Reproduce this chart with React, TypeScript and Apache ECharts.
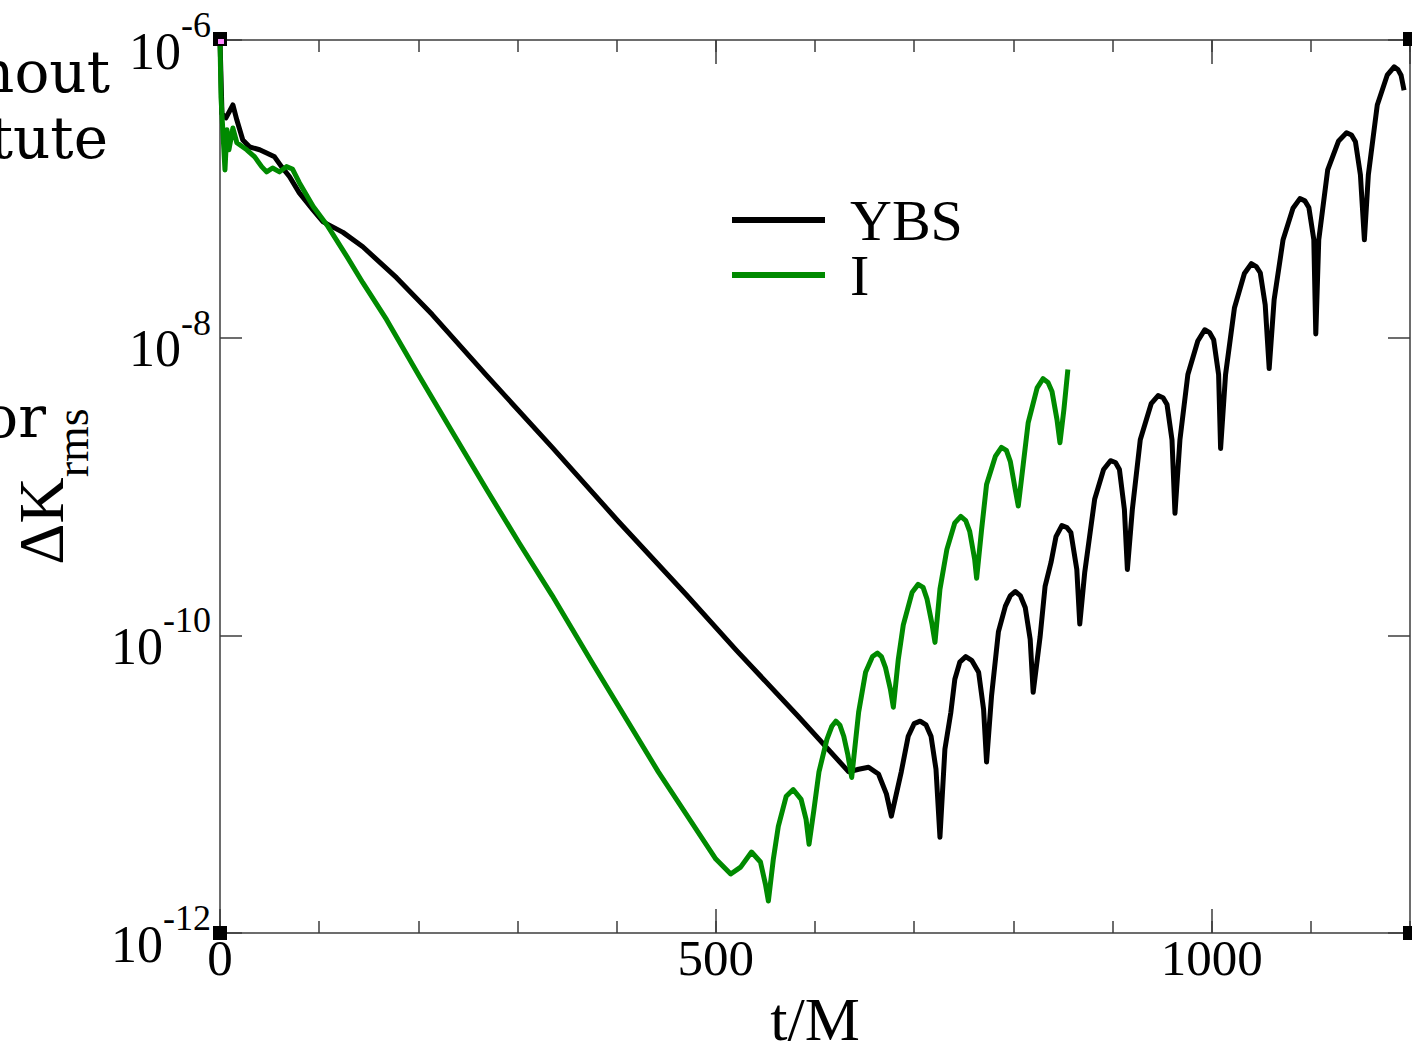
import React, { useEffect, useRef } from "react";
import * as echarts from "echarts";

// ---- Data (t/M, ΔK_rms) ----
const ybsTime = [
  0, 2, 6, 13, 17, 23, 30, 40, 47, 55, 62, 70, 80, 94, 104, 124, 144, 178, 214, 269, 335, 402, 470, 521, 583, 634,
  644, 654, 664, 672, 677, 687, 694, 700, 706, 712, 717, 722, 726, 731, 737, 741, 746, 752, 758, 765, 770, 773, 778,
  785, 792, 797, 802, 807, 812, 817, 820, 827, 832, 838, 843, 849, 854, 858, 864, 867, 872, 882, 891, 898, 903, 907,
  912, 915, 920, 928, 939, 946, 951, 955, 960, 963, 968, 976, 986, 993, 998, 1002, 1007, 1009, 1014, 1023, 1033, 1040,
  1045, 1049, 1054, 1058, 1063, 1072, 1082, 1089, 1094, 1098, 1103, 1105, 1108, 1117, 1128, 1136, 1141, 1145, 1150,
  1154, 1158, 1167, 1177, 1184, 1188, 1191, 1194,
];
const ybsDeltaK = [
  1.0e-6, 3.2e-7, 3.0e-7, 3.66e-7, 2.9e-7, 2.13e-7, 1.91e-7, 1.83e-7, 1.74e-7, 1.64e-7, 1.41e-7, 1.21e-7, 9.4e-8,
  7.2e-8, 6.0e-8, 5.1e-8, 4.08e-8, 2.53e-8, 1.43e-8, 5.56e-9, 1.83e-9, 5.8e-10, 1.88e-10, 7.9e-11, 2.86e-11, 1.21e-11,
  1.26e-11, 1.3e-11, 1.17e-11, 8.6e-12, 6.1e-12, 1.21e-11, 2.1e-11, 2.55e-11, 2.65e-11, 2.5e-11, 2.1e-11, 1.26e-11,
  4.4e-12, 1.72e-11, 3.04e-11, 5.07e-11, 6.6e-11, 7.2e-11, 6.8e-11, 5.65e-11, 3.18e-11, 1.41e-11, 3.9e-11, 1.06e-10,
  1.57e-10, 1.85e-10, 1.97e-10, 1.85e-10, 1.54e-10, 9.4e-11, 4.14e-11, 9.8e-11, 2.13e-10, 3.09e-10, 4.6e-10, 5.47e-10,
  5.3e-10, 4.91e-10, 2.77e-10, 1.19e-10, 2.65e-10, 8.2e-10, 1.3e-9, 1.49e-9, 1.45e-9, 1.3e-9, 7.0e-10, 2.77e-10, 7.0e-10,
  2.06e-9, 3.6e-9, 4.08e-9, 3.95e-9, 3.55e-9, 2.06e-9, 6.6e-10, 2.06e-9, 5.65e-9, 9.5e-9, 1.13e-8, 1.08e-8, 9.7e-9,
  5.65e-9, 1.8e-9, 5.65e-9, 1.59e-8, 2.7e-8, 3.14e-8, 3.0e-8, 2.73e-8, 1.66e-8, 6.2e-9, 1.8e-8, 4.55e-8, 7.4e-8, 8.6e-8,
  8.3e-8, 7.5e-8, 4.55e-8, 1.06e-8, 4.55e-8, 1.34e-7, 2.1e-7, 2.38e-7, 2.3e-7, 2.07e-7, 1.24e-7, 4.55e-8, 1.24e-7,
  3.66e-7, 5.8e-7, 6.6e-7, 6.3e-7, 5.8e-7, 4.6e-7,
];
const iTime = [
  0, 1, 5, 7, 9, 13, 17, 27, 35, 42, 47, 53, 60, 67, 73, 80, 94, 108, 128, 144, 168, 201, 234, 269, 302, 335, 375,
  442, 500, 515, 525, 536, 545, 550, 553, 558, 563, 571, 578, 586, 591, 594, 599, 604, 612, 617, 621, 625, 629, 633,
  637, 644, 651, 658, 663, 667, 671, 676, 679, 684, 689, 698, 704, 709, 713, 718, 721, 726, 733, 741, 747, 752, 756,
  761, 763, 768, 773, 782, 788, 793, 797, 802, 805, 810, 815, 824, 830, 835, 839, 844, 847, 851, 855,
];
const iDeltaK = [
  1.0e-6, 4.14e-7, 1.34e-7, 2.49e-7, 1.83e-7, 2.56e-7, 2.04e-7, 1.83e-7, 1.64e-7, 1.41e-7, 1.3e-7, 1.38e-7, 1.3e-7,
  1.41e-7, 1.36e-7, 1.1e-7, 7.6e-8, 5.7e-8, 3.5e-8, 2.34e-8, 1.32e-8, 5.5e-9, 2.34e-9, 9.5e-10, 4.14e-10, 1.85e-10,
  6.6e-11, 1.21e-11, 3.14e-12, 2.49e-12, 2.77e-12, 3.5e-12, 3.0e-12, 2.13e-12, 1.64e-12, 3.14e-12, 5.2e-12, 8.3e-12,
  9.2e-12, 7.9e-12, 5.8e-12, 3.95e-12, 6.8e-12, 1.21e-11, 2.0e-11, 2.45e-11, 2.65e-11, 2.5e-11, 2.1e-11, 1.59e-11,
  1.11e-11, 3.04e-11, 5.65e-11, 7.2e-11, 7.6e-11, 7.2e-11, 6.1e-11, 4.35e-11, 3.29e-11, 6.9e-11, 1.17e-10, 1.95e-10,
  2.2e-10, 2.1e-10, 1.75e-10, 1.19e-10, 8.97e-11, 2.04e-10, 3.78e-10, 5.7e-10, 6.3e-10, 5.9e-10, 4.99e-10, 3.24e-10,
  2.42e-10, 5.14e-10, 1.03e-9, 1.6e-9, 1.83e-9, 1.75e-9, 1.47e-9, 9.5e-10, 7.4e-10, 1.41e-9, 2.69e-9, 4.6e-9, 5.3e-9,
  5.0e-9, 4.35e-9, 2.82e-9, 1.97e-9, 3.29e-9, 6.1e-9,
];
const seriesNames = ["YBS", "I"];
const seriesColors = ["#000000", "#008a00"];
const xRange = [0, 1200];
const yExpRange = [-12, -6];

const SERIF = "'Liberation Serif', 'Times New Roman', serif";
const PAGE_SERIF = "'DejaVu Serif', serif";
const FRAME = "#3c3c3c";

export default function App() {
  const ref = useRef<HTMLDivElement>(null);
  useEffect(() => {
    const chart = echarts.init(ref.current!, null, { renderer: "svg" });
    const gl = 220, gt = 40, gr = 1410, gb = 933;

    const xBase = (extra: any) => ({
      type: "value",
      min: xRange[0],
      max: xRange[1],
      splitLine: { show: false },
      axisLine: { show: true, onZero: false, lineStyle: { color: FRAME, width: 1.5 } },
      axisTick: { show: true, inside: true, length: 24, lineStyle: { color: FRAME, width: 1.5 } },
      axisLabel: { show: false },
      ...extra,
    });
    const yTickBase = (extra: any) => ({
      type: "value",
      min: yExpRange[0],
      max: yExpRange[1],
      interval: 2,
      splitLine: { show: false },
      axisLine: { show: true, onZero: false, lineStyle: { color: FRAME, width: 1.5 } },
      axisTick: { show: true, inside: true, length: 22, lineStyle: { color: FRAME, width: 1.5 } },
      axisLabel: { show: false },
      ...extra,
    });
    const minorTick = { show: true, inside: true, length: 12, lineStyle: { color: FRAME, width: 1.5 } };

    chart.setOption({
      animation: false,
      backgroundColor: "#ffffff",
      grid: {
        left: gl,
        top: gt,
        width: gr - gl,
        height: gb - gt,
        containLabel: false,
        outerBoundsMode: "none",
      },
      legend: {
        data: seriesNames,
        orient: "vertical",
        left: 732,
        top: 191,
        padding: 0,
        icon: "rect",
        itemWidth: 93,
        itemHeight: 6,
        itemGap: -3,
        textStyle: { fontSize: 58, fontFamily: SERIF, color: "#000", lineHeight: 48, padding: [0, 0, 0, 20] },
      },
      xAxis: [
        xBase({
          position: "bottom",
          interval: 500,
          axisLabel: {
            show: true,
            fontSize: 51,
            fontFamily: SERIF,
            color: "#000",
            margin: -1,
            showMaxLabel: false,
            formatter: (v: number) => String(v),
          },
          name: "t/M",
          nameLocation: "middle",
          nameGap: 50,
          nameTextStyle: { fontSize: 62, lineHeight: 50, fontFamily: SERIF, color: "#000" },
        }),
        xBase({ position: "top", interval: 500 }),
        xBase({ position: "bottom", interval: 100, axisLine: { show: false }, axisTick: minorTick }),
        xBase({ position: "top", interval: 100, axisLine: { show: false }, axisTick: minorTick }),
      ],
      yAxis: [
        {
          type: "log",
          logBase: 10,
          position: "left",
          min: Math.pow(10, yExpRange[0]),
          max: Math.pow(10, yExpRange[1]),
          axisLine: { show: false, onZero: false },
          axisTick: { show: false },
          axisLabel: { show: false },
          splitLine: { show: false },
        },
        yTickBase({
          position: "left",
          axisLabel: {
            show: true,
            margin: 9,
            formatter: (v: number) => `{b|10}{s|${v}}`,
            rich: {
              b: { fontSize: 52, fontFamily: SERIF, color: "#000", padding: [22, 0, 0, 0] },
              s: { fontSize: 36, fontFamily: SERIF, color: "#000", padding: [0, 0, 30, 0] },
            },
          },
          name: "{a|ΔK}{b|rms}",
          nameLocation: "middle",
          nameRotate: 90,
          nameGap: 125,
          nameTextStyle: {
            rich: {
              a: { fontSize: 64, fontFamily: SERIF, color: "#000" },
              b: { fontSize: 46, fontFamily: SERIF, color: "#000", padding: [62, 0, 0, 0] },
            },
          },
        }),
        yTickBase({ position: "right" }),
      ],
      series: [
        {
          name: seriesNames[0],
          type: "line",
          xAxisIndex: 0,
          yAxisIndex: 0,
          showSymbol: false,
          symbol: "none",
          color: seriesColors[0],
          lineStyle: { color: seriesColors[0], width: 5, join: "round" },
          data: ybsTime.map((t, i) => [t, ybsDeltaK[i]]),
          z: 3,
        },
        {
          name: seriesNames[1],
          type: "line",
          xAxisIndex: 0,
          yAxisIndex: 0,
          showSymbol: false,
          symbol: "none",
          color: seriesColors[1],
          lineStyle: { color: seriesColors[1], width: 5, join: "round" },
          data: iTime.map((t, i) => [t, iDeltaK[i]]),
          z: 4,
        },
      ],
      graphic: [
        { type: "text", x: 110, y: 72, style: { text: "without", fill: "#000", font: `58px ${PAGE_SERIF}`, textAlign: "right", textVerticalAlign: "middle" } },
        { type: "text", x: 108, y: 138, style: { text: "Institute", fill: "#000", font: `58px ${PAGE_SERIF}`, textAlign: "right", textVerticalAlign: "middle" } },
        { type: "text", x: 46, y: 417, style: { text: "for", fill: "#000", font: `58px ${PAGE_SERIF}`, textAlign: "right", textVerticalAlign: "middle" } },
        { type: "rect", shape: { x: gl - 7, y: gt - 8, width: 14, height: 14 }, style: { fill: "#000" }, z: 100 },
        { type: "rect", shape: { x: gl - 2, y: gt - 1, width: 6, height: 5 }, style: { fill: "#ff88ff" }, z: 101 },
        { type: "rect", shape: { x: gl - 7, y: gb - 7, width: 14, height: 14 }, style: { fill: "#000" }, z: 100 },
        { type: "rect", shape: { x: gr - 7, y: gt - 8, width: 14, height: 14 }, style: { fill: "#000" }, z: 100 },
        { type: "rect", shape: { x: gr - 7, y: gb - 7, width: 14, height: 14 }, style: { fill: "#000" }, z: 100 },
      ],
    });
    return () => chart.dispose();
  }, []);
  return (
    <div
      ref={ref}
      style={{ position: "fixed", left: 0, top: 0, width: 1412, height: 1047, background: "#fff" }}
    />
  );
}
